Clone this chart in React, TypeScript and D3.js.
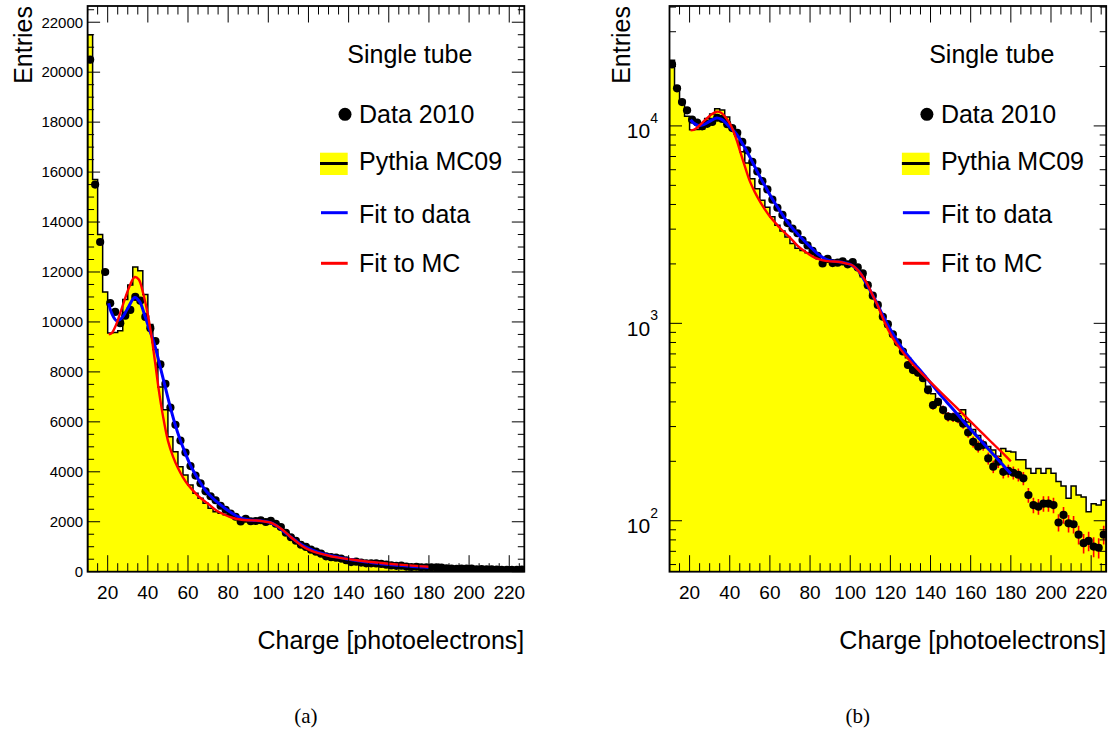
import React from "react";
import * as d3 from "d3";

// ---------- data ----------
const binLow = 10;
const binWidth = 2.5;
const xMax = 227.5;

// Pythia MC09 histogram (entries per 2.5 p.e. bin, first bin 10-12.5)
const mcCounts = [
  21500, 15700, 13500, 11200, 9560, 9580, 9650, 10900, 11480, 12200,
  12050, 11100, 9900, 8900, 7400, 6480, 5400, 4800, 4200, 3870,
  3470, 3140, 2940, 2740, 2540, 2400, 2340, 2280, 2230, 2170,
  2100, 2080, 2060, 2050, 2040, 2010, 1960, 1880, 1720, 1560,
  1380, 1240, 1100, 960, 860, 790, 730, 670, 620, 575,
  527, 480, 440, 410, 375, 345, 340, 350, 365, 316,
  290, 270, 250, 238, 228, 212, 232, 225, 223, 204,
  204, 184, 174, 184, 174, 184, 174, 158, 150, 130,
  150, 135, 132, 111, 122, 120, 127,
];

// Data 2010 (same binning)
const dataCounts = [
  20500, 15500, 13200, 12000, 10750, 10400, 9950, 10250, 10480, 11000,
  10850, 10200, 9750, 9230, 8300, 7520, 6570, 5880, 5250, 4770,
  4230, 3850, 3540, 3220, 3020, 2860, 2640, 2480, 2330, 2200,
  2010, 2120, 2020, 2030, 2060, 1990, 2040, 1920, 1790, 1560,
  1380, 1240, 1080, 990, 880, 800, 720, 615, 580, 562,
  527, 459, 385, 400, 364, 337, 335, 330, 310, 280,
  251, 237, 242, 207, 188, 199, 177, 179, 175, 171,
  164, 135, 120, 118, 122, 122, 120, 98, 107, 97,
  96, 85, 77, 79, 74, 73, 85,
];

// Fit to data (blue)
const fitDataX = [20.5, 22, 24.5, 27, 30, 33.5, 36, 38.5, 41, 43.5, 46, 48.5, 51, 53.5, 56, 58.5, 61, 63.5, 66, 68.5, 71, 73.5, 76, 78.5, 81, 84, 88, 92, 96, 100, 104, 108, 112, 116, 120, 124, 128, 132, 136, 140, 144, 148, 152, 156, 160, 164, 168, 172, 176, 180];
const fitDataY = [10750, 10350, 10050, 10150, 10550, 10980, 10800, 10250, 9650, 9050, 8250, 7450, 6650, 5920, 5300, 4780, 4300, 3920, 3580, 3280, 3050, 2860, 2690, 2530, 2390, 2240, 2110, 2060, 2040, 1990, 1850, 1590, 1340, 1110, 930, 800, 700, 625, 560, 500, 445, 400, 360, 322, 290, 262, 236, 213, 192, 173];

// Fit to MC (red)
const fitMcX = [20.5, 22, 24, 26, 28.5, 31, 33.5, 35.5, 37.5, 39.5, 41.5, 43.5, 45.5, 47.5, 50, 52.5, 55, 57.5, 60, 62.5, 65, 67.5, 70, 74, 78, 82, 86, 90, 94, 98, 101, 104, 107.5, 111, 114, 117, 120.7, 125, 130.6, 135, 140, 145, 150, 155, 160, 165, 170, 175, 180];
const fitMcY = [9500, 9550, 9850, 10300, 10900, 11450, 11800, 11700, 11200, 10500, 9600, 8450, 7250, 6250, 5250, 4620, 4150, 3780, 3480, 3250, 3040, 2870, 2720, 2460, 2290, 2160, 2090, 2060, 2050, 2010, 1970, 1850, 1650, 1400, 1210, 1020, 860, 740, 630, 566, 504, 449, 400, 357, 318, 283, 252, 225, 200];

const xTickValues = [20, 40, 60, 80, 100, 120, 140, 160, 180, 200, 220];
const yTickLinear = [0, 2000, 4000, 6000, 8000, 10000, 12000, 14000, 16000, 18000, 20000, 22000];
const yTickLogMajor = [100, 1000, 10000];
const yTickLogExp = ["2", "3", "4"];

const FONT = "'Liberation Sans', Arial, Helvetica, sans-serif";

function Panel({ log, x0, tag }: { log: boolean; x0: number; tag: string }) {
  const plotL = x0;
  const plotR = x0 + 436.7;
  const plotT = 6;
  const plotB = 571.7;
  const dx = x0 - 87.6;

  const x = d3.scaleLinear().domain([binLow, xMax]).range([plotL, plotR]);
  const y: any = log
    ? d3.scaleLog().domain([55.2, 40500]).range([plotB, plotT])
    : d3.scaleLinear().domain([0, 22650]).range([plotB, plotT]);

  const edges = mcCounts.map((_, i) => binLow + i * binWidth);

  let hp = `M${x(binLow)},${plotB}`;
  mcCounts.forEach((v, i) => {
    hp += `L${x(edges[i])},${y(v)}L${x(edges[i] + binWidth)},${y(v)}`;
  });
  hp += `L${x(xMax)},${plotB}Z`;

  const line = d3
    .line<[number, number]>()
    .x((d) => x(d[0]))
    .y((d) => y(d[1]))
    .curve(d3.curveCatmullRom.alpha(0.5));

  const bluePts: [number, number][] = fitDataX.map((c, i) => [c, fitDataY[i]]);
  const redPts: [number, number][] = fitMcX.map((c, i) => [c, fitMcY[i]]);

  const xMinor = d3.range(10, 227.5, 5).filter((v) => v % 20 !== 0);
  let yMajor: number[];
  let yMinor: number[];
  if (log) {
    yMajor = yTickLogMajor;
    yMinor = [];
    [10, 100, 1000, 10000].forEach((dec) => {
      for (let k = 2; k <= 9; k++) {
        const v = dec * k;
        if (v >= 55.2 && v <= 40500) yMinor.push(v);
      }
    });
  } else {
    yMajor = yTickLinear;
    yMinor = d3.range(500, 22650, 500).filter((v) => v % 2000 !== 0);
  }

  const xMajLen = 16.5, xMinLen = 8.5, yMajLen = 12.5, yMinLen = 6.5;

  const centers = edges.map((e) => e + binWidth / 2);

  return (
    <g>
      <defs>
        <clipPath id={`clip-${tag}`}>
          <rect x={plotL} y={plotT} width={plotR - plotL} height={plotB - plotT} />
        </clipPath>
      </defs>
      <g clipPath={`url(#clip-${tag})`}>
        <path d={hp} fill="#ffff00" stroke="#000" strokeWidth={1.5} />
        {dataCounts.map((v, i) => {
          const e = Math.sqrt(v);
          return (
            <line
              key={`e${i}`}
              x1={x(centers[i])}
              x2={x(centers[i])}
              y1={y(v + e)}
              y2={y(v - e)}
              stroke="#ff0000"
              strokeWidth={1.6}
            />
          );
        })}
        {dataCounts.map((v, i) => (
          <circle key={`d${i}`} cx={x(centers[i])} cy={y(v)} r={4.1} fill="#000" />
        ))}
        <path d={line(bluePts) || ""} fill="none" stroke="#0000ff" strokeWidth={3} />
        <path d={line(redPts) || ""} fill="none" stroke="#ff0000" strokeWidth={2.4} />
      </g>

      <g stroke="#000" strokeWidth={1}>
        {xTickValues.map((t) => (
          <g key={`xt${t}`}>
            <line x1={x(t)} x2={x(t)} y1={plotB} y2={plotB - xMajLen} />
            <line x1={x(t)} x2={x(t)} y1={plotT} y2={plotT + xMajLen} />
          </g>
        ))}
        {xMinor.map((t) => (
          <g key={`xm${t}`}>
            <line x1={x(t)} x2={x(t)} y1={plotB} y2={plotB - xMinLen} />
            <line x1={x(t)} x2={x(t)} y1={plotT} y2={plotT + xMinLen} />
          </g>
        ))}
        {yMajor.map((t) => (
          <g key={`yt${t}`}>
            <line x1={plotL} x2={plotL + yMajLen} y1={y(t)} y2={y(t)} />
            <line x1={plotR} x2={plotR - yMajLen} y1={y(t)} y2={y(t)} />
          </g>
        ))}
        {yMinor.map((t) => (
          <g key={`ym${t}`}>
            <line x1={plotL} x2={plotL + yMinLen} y1={y(t)} y2={y(t)} />
            <line x1={plotR} x2={plotR - yMinLen} y1={y(t)} y2={y(t)} />
          </g>
        ))}
      </g>

      <rect x={plotL} y={plotT} width={plotR - plotL} height={plotB - plotT} fill="none" stroke="#000" strokeWidth={1.8} />

      <g fontFamily={FONT} fontSize={19} fill="#000" textAnchor="middle">
        {xTickValues.map((t) => (
          <text key={`xl${t}`} x={x(t)} y={598.5}>
            {t}
          </text>
        ))}
      </g>
      {log ? (
        <g fontFamily={FONT} fill="#000" textAnchor="end">
          {yTickLogMajor.map((t, i) => (
            <text key={`yl${t}`} x={plotL - 11.5} y={y(t) + 12.5} fontSize={21}>
              10
              <tspan dy={-15.5} fontSize={14}>
                {yTickLogExp[i]}
              </tspan>
            </text>
          ))}
        </g>
      ) : (
        <g fontFamily={FONT} fontSize={15} fill="#000" textAnchor="end">
          {yTickLinear.map((t) => (
            <text key={`yl${t}`} x={plotL - 4.5} y={y(t) + 5.3}>
              {t}
            </text>
          ))}
        </g>
      )}

      <text x={plotR} y={648.5} fontFamily={FONT} fontSize={25} textAnchor="end" fill="#000">
        Charge [photoelectrons]
      </text>
      <text
        transform={`translate(${log ? 630 : 32},6) rotate(-90)`}
        fontFamily={FONT}
        fontSize={25}
        textAnchor="end"
        fill="#000"
      >
        Entries
      </text>

      <g fontFamily={FONT} fontSize={25} fill="#000">
        <text x={347.3 + dx} y={63.3}>Single tube</text>
        <circle cx={345 + dx} cy={114.3} r={6.5} fill="#000" />
        <text x={359 + dx} y={123.3}>Data 2010</text>
        <rect x={320 + dx} y={152.7} width={27.7} height={22.3} fill="#ffff00" />
        <line x1={320 + dx} x2={347.7 + dx} y1={163.5} y2={163.5} stroke="#000" strokeWidth={3} />
        <text x={359 + dx} y={170.3}>Pythia MC09</text>
        <line x1={321 + dx} x2={347.7 + dx} y1={212.7} y2={212.7} stroke="#0000ff" strokeWidth={3} />
        <text x={359 + dx} y={223.3}>Fit to data</text>
        <line x1={321 + dx} x2={347.7 + dx} y1={263.3} y2={263.3} stroke="#ff0000" strokeWidth={3} />
        <text x={359 + dx} y={272.3}>Fit to MC</text>
      </g>

      <text
        x={(plotL + plotR) / 2 - (log ? 30 : 0)}
        y={723}
        fontFamily="'Liberation Serif', 'DejaVu Serif', serif"
        fontSize={21}
        textAnchor="middle"
        fill="#000"
      >
        {log ? "(b)" : "(a)"}
      </text>
    </g>
  );
}

export default function App() {
  return (
    <svg
      width={1115}
      height={734}
      viewBox="0 0 1115 734"
      style={{ position: "absolute", left: 0, top: 0, background: "#fff" }}
    >
      <rect x={0} y={0} width={1115} height={734} fill="#fff" />
      <Panel log={false} x0={87.6} tag="a" />
      <Panel log={true} x0={669.5} tag="b" />
    </svg>
  );
}
